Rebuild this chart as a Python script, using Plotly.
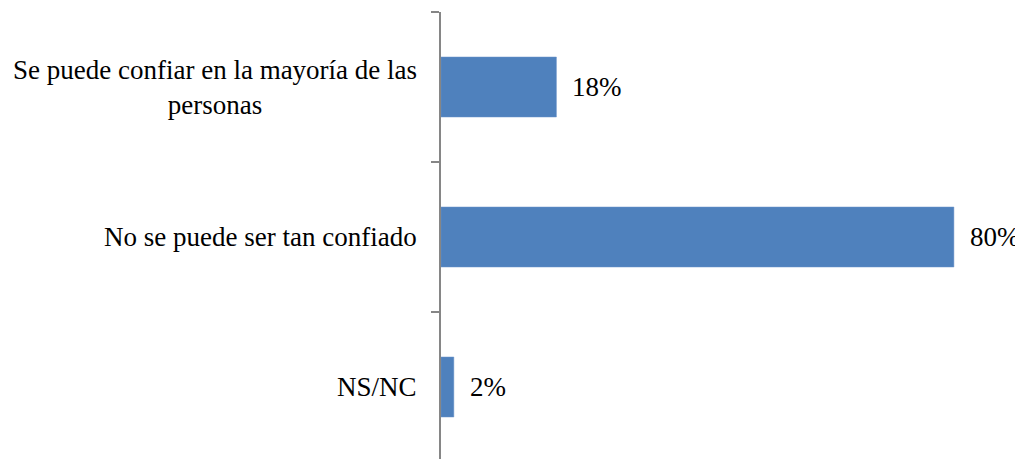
import plotly.graph_objects as go

categories = ["Se puede confiar en la mayoría de las<br>personas",
              "No se puede ser tan confiado",
              "NS/NC"]
values = [0.18, 0.80, 0.02]
value_labels = ["18%", "80%", "2%"]

bar_color = "#4F81BD"
font_family = "Liberation Serif"

fig = go.Figure()
fig.add_trace(go.Bar(
    x=values, y=categories, orientation="h",
    marker=dict(color=bar_color, line=dict(color="#6A93C8", width=0.5)),
    hoverinfo="skip",
))

annotations = []
for c, v, t in zip(categories, values, value_labels):
    annotations.append(dict(x=v, y=c, xref="x", yref="y", text=t, showarrow=False,
                            xanchor="left", xshift=14,
                            font=dict(family=font_family, size=27, color="black")))
    annotations.append(dict(x=0, y=c, xref="paper", yref="y", text=c, showarrow=False,
                            xanchor="right", align="center", xshift=-22,
                            font=dict(family=font_family, size=27, color="black")))

fig.update_layout(
    width=1015, height=451,
    margin=dict(l=433, r=5, t=4, b=0),
    paper_bgcolor="white", plot_bgcolor="white",
    font=dict(family=font_family),
    bargap=0.6,
    showlegend=False,
    annotations=annotations,
    xaxis=dict(range=[0, 0.9], visible=False),
    yaxis=dict(
        type="category",
        range=[2.48, -0.5],
        showticklabels=False,
        showline=True, linecolor="#868686", linewidth=2,
        ticks="outside", ticklen=8, tickcolor="#868686", tickwidth=1.5,
        tickson="boundaries",
        showgrid=False, zeroline=False,
    ),
)

fig.write_html("out.html")
